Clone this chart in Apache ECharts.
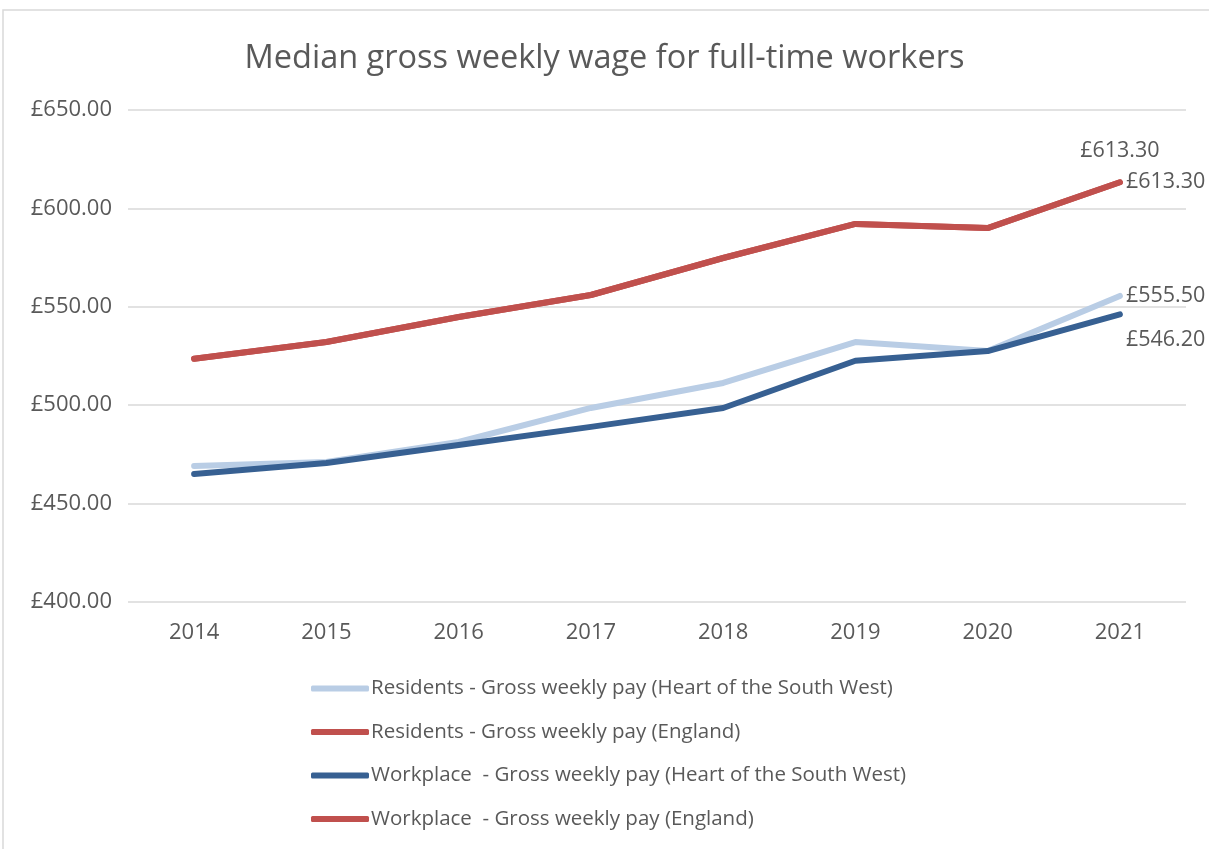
<!DOCTYPE html>
<html>
<head>
<meta charset="utf-8">
<title>Median gross weekly wage</title>
<script src="https://cdn.jsdelivr.net/npm/echarts@6/dist/echarts.min.js"></script>
<style>
  html, body { margin: 0; padding: 0; background: #fff; }
  #main { width: 1209px; height: 849px; }
</style>
</head>
<body>
<div id="main"></div>
<script>
// data
var years = ['2014', '2015', '2016', '2017', '2018', '2019', '2020', '2021'];
var residentsHotSW = [469.1, 471.1, 481.3, 498.6, 511.3, 532.1, 527.5, 555.5];
var residentsEngland = [523.6, 532.1, 544.8, 556.0, 574.8, 592.1, 590.0, 613.3];
var workplaceHotSW = [465.0, 470.6, 479.8, 489.0, 498.6, 522.6, 527.5, 546.2];
var workplaceEngland = [523.6, 532.1, 544.8, 556.0, 574.8, 592.1, 590.0, 613.3];

var names = [
  'Residents - Gross weekly pay (Heart of the South West)',
  'Residents - Gross weekly pay (England)',
  'Workplace  - Gross weekly pay (Heart of the South West)',
  'Workplace  - Gross weekly pay (England)'
];

var textColor = '#595959';
var font = 'Open Sans';

function money(v) {
  return '£' + Number(v).toFixed(2);
}

// only the last point gets a label
function withEndLabel(values, labelOpts) {
  var last = values.length - 1;
  return values.map(function (v, i) {
    if (i !== last) return v;
    return {
      value: v,
      label: Object.assign({
        show: true,
        formatter: function (p) { return money(p.value); },
        color: textColor,
        fontFamily: font,
        fontSize: 21.5
      }, labelOpts)
    };
  });
}

function lineSeries(name, values, color, labelOpts) {
  return {
    name: name,
    type: 'line',
    data: withEndLabel(values, labelOpts),
    symbol: 'circle',
    symbolSize: 0,
    showSymbol: true,
    lineStyle: { color: color, width: 6, cap: 'round', join: 'round' },
    itemStyle: { color: color },
    emphasis: { disabled: true }
  };
}

var myChart = echarts.init(document.getElementById('main'));

var option = {
  animation: false,
  backgroundColor: '#fff',
  graphic: [{
    type: 'rect',
    shape: { x: 3, y: 10, width: 1240, height: 880 },
    style: { fill: 'none', stroke: '#d9d9d9', lineWidth: 1.5 },
    silent: true
  }],
  title: {
    text: 'Median gross weekly wage for full-time workers',
    left: 'center',
    top: 37,
    textStyle: { color: textColor, fontFamily: font, fontSize: 32.5, fontWeight: 'normal' }
  },
  grid: { left: 128, right: 23, top: 110, bottom: 247 },
  legend: {
    orient: 'vertical',
    left: 306,
    top: 673,
    itemWidth: 58,
    itemHeight: 6,
    itemGap: 22.5,
    icon: 'roundRect',
    textStyle: { color: textColor, fontFamily: font, fontSize: 20.5, padding: [0, 0, 0, -3] },
    data: names
  },
  xAxis: {
    type: 'category',
    data: years,
    boundaryGap: true,
    axisLine: { show: false },
    axisTick: { show: false },
    axisLabel: { color: textColor, fontFamily: font, fontSize: 22, margin: 20 }
  },
  yAxis: {
    type: 'value',
    min: 400,
    max: 650,
    interval: 50,
    axisLine: { show: false },
    axisTick: { show: false },
    splitLine: { lineStyle: { color: '#d9d9d9', width: 1.5 } },
    axisLabel: {
      color: textColor, fontFamily: font, fontSize: 22, margin: 16,
      formatter: function (v) { return money(v); }
    }
  },
  series: [
    lineSeries(names[0], residentsHotSW, '#b9cde5', { position: 'right', distance: 6 }),
    lineSeries(names[1], residentsEngland, '#c0504d', { position: 'right', distance: 6 }),
    lineSeries(names[2], workplaceHotSW, '#376092', { position: 'right', distance: 6, offset: [0, 26] }),
    lineSeries(names[3], workplaceEngland, '#c0504d', { position: 'top', distance: 20 })
  ]
};

myChart.setOption(option);
</script>
</body>
</html>
